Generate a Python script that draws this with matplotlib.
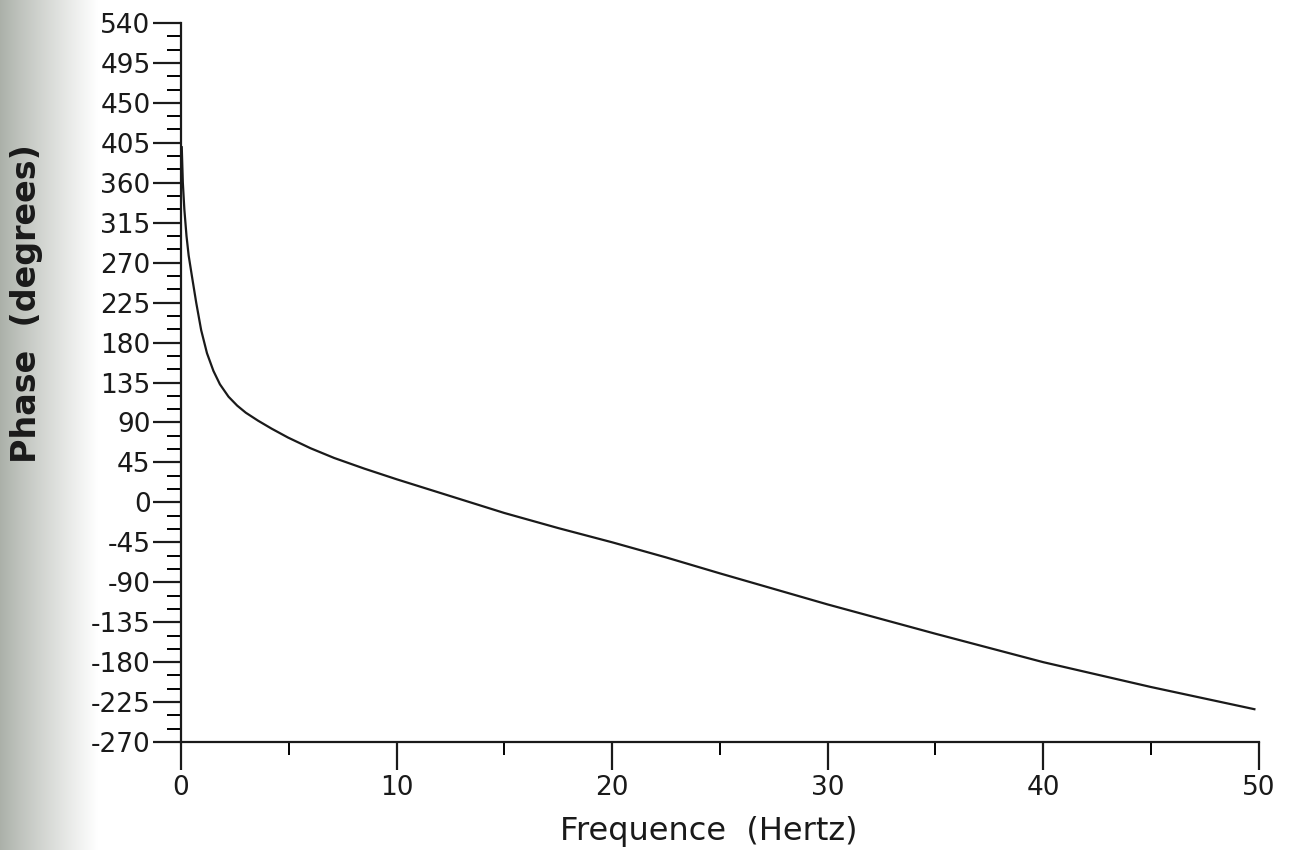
import numpy as np
import matplotlib.pyplot as plt
from matplotlib.ticker import MultipleLocator

plt.rcParams['axes.unicode_minus'] = False

# phase response
freq = [0.03, 0.08, 0.15, 0.25, 0.35, 0.5, 0.7, 0.93, 1.2, 1.5, 1.8, 2.2,
        2.6, 3.0, 3.57, 4.2, 4.96, 6.0, 7.1, 8.5, 10.0, 12.5, 15.0, 17.5,
        20.0, 22.5, 25.0, 30.0, 35.0, 40.0, 45.0, 49.8]
phase = [400, 360, 330, 300, 278, 255, 225, 194, 168, 148, 133, 119,
         109, 101, 92, 83, 73, 61, 50, 38, 26, 7, -12, -29,
         -45, -62, -80, -115, -148, -180, -208, -233]

xticks = [0, 10, 20, 30, 40, 50]
yticks = list(range(-270, 541, 45))

fig = plt.figure(figsize=(13.03, 8.5), dpi=100)
fig.patch.set_facecolor('white')

# scanner shadow at the left edge
bg = fig.add_axes([0, 0, 0.075, 1])
t = np.clip(np.linspace(0, 1, 200) ** 0.9, 0, 1)
left = np.array([0.67, 0.69, 0.66])
rgb = left[None, :] + (1 - left[None, :]) * t[:, None]
bg.imshow(np.tile(rgb[None, :, :], (2, 1, 1)), aspect='auto',
          extent=[0, 1, 0, 1])
bg.axis('off')

ax = fig.add_axes([0.139, 0.127, 0.827, 0.846])
ax.patch.set_alpha(0)
ax.plot(freq, phase, color='#1a1a1a', lw=1.6)

ax.set_xlim(0, 50)
ax.set_ylim(-270, 540)
ax.set_xticks(xticks)
ax.set_yticks(yticks)
ax.xaxis.set_minor_locator(MultipleLocator(5))
ax.yaxis.set_minor_locator(MultipleLocator(15))

for s in ['top', 'right']:
    ax.spines[s].set_visible(False)
for s in ['left', 'bottom']:
    ax.spines[s].set_linewidth(1.6)
    ax.spines[s].set_color('#1a1a1a')

ax.tick_params(axis='both', which='major', labelsize=19, colors='#1a1a1a',
               width=1.6, direction='out')
ax.tick_params(axis='x', which='major', length=20, pad=4)
ax.tick_params(axis='x', which='minor', length=9, width=1.4)
ax.tick_params(axis='y', which='major', length=20, pad=2)
ax.tick_params(axis='y', which='minor', length=10, width=1.4)

ax.set_xlabel('Frequence  (Hertz)', fontsize=23, color='#1a1a1a')
ax.xaxis.set_label_coords(0.49, -0.103)
ax.set_ylabel('Phase  (degrees)', fontsize=24, color='#1a1a1a',
              fontweight='bold')
ax.yaxis.set_label_coords(-0.128, 0.61)

fig.savefig('out.png', dpi=100)
